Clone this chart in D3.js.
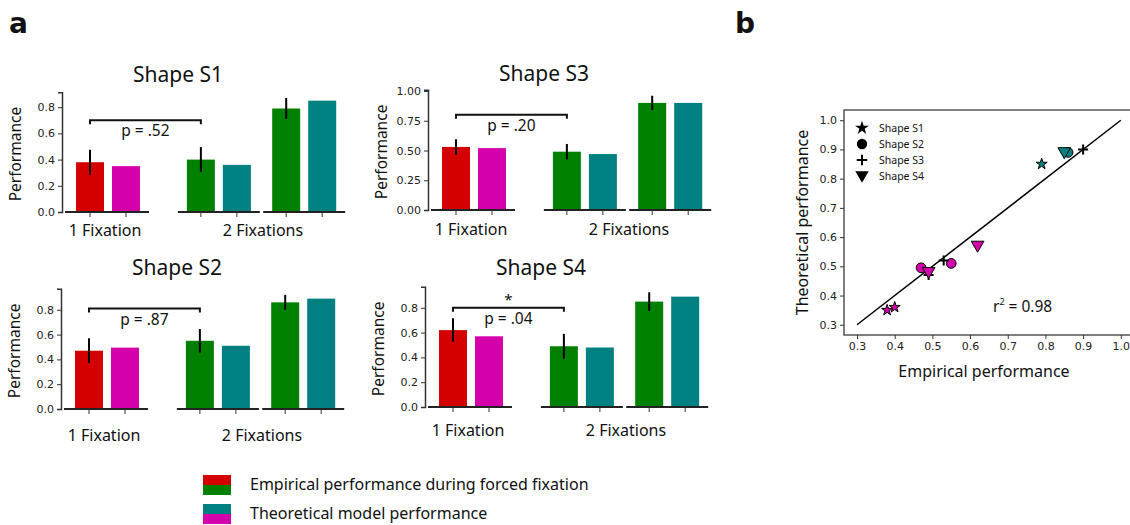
<!DOCTYPE html>
<html>
<head>
<meta charset="utf-8">
<script src="https://cdn.jsdelivr.net/npm/d3@7"></script>
<style>
  body { margin: 0; background: #fff; }
  text { font-family: "Noto Sans", "Open Sans", sans-serif; fill: #111; }
  .tick text { font-family: "DejaVu Sans", sans-serif; font-size: 11px; fill: #222; }
</style>
</head>
<body>
<script>
// ---- data ----
var shapes = ["Shape S1", "Shape S2", "Shape S3", "Shape S4"];
// empirical: [1 fixation, 2 fixations (first), 2 fixations (second)]
var empirical = [[0.38, 0.40, 0.79], [0.47, 0.55, 0.86], [0.53, 0.49, 0.90], [0.62, 0.49, 0.85]];
var empiricalErr = [[0.095, 0.095, 0.08], [0.10, 0.095, 0.06], [0.065, 0.065, 0.06], [0.095, 0.10, 0.075]];
var theoretical = [[0.35, 0.36, 0.85], [0.495, 0.51, 0.89], [0.52, 0.47, 0.90], [0.57, 0.48, 0.89]];
var pLabels = ["p = .52", "p = .87", "p = .20", "p = .04"];
var sigStars = ["", "", "", "*"];
var bracketY = [0.70, 0.81, 0.80, 0.80];
var yTicksShort = [0, 0.2, 0.4, 0.6, 0.8];
var yTicksS3 = [0, 0.25, 0.5, 0.75, 1.0];
var scatterTicks = [0.3, 0.4, 0.5, 0.6, 0.7, 0.8, 0.9, 1.0];
var r2Label = "0.98";

var red = "#d40000", magenta = "#d400aa", green = "#008000", teal = "#008080";

var svg = d3.select("body").append("svg")
  .attr("width", 1130).attr("height", 525);

svg.append("text").attr("x", 9).attr("y", 33)
  .style("font-family", "DejaVu Sans").style("font-weight", "bold").style("font-size", "28px").text("a");
svg.append("text").attr("x", 735).attr("y", 33)
  .style("font-family", "DejaVu Sans").style("font-weight", "bold").style("font-size", "28px").text("b");

// panel layout
var panels = [
  {axisX: 62, y0: 212, unit: 131, top: 0.915, ticks: yTicksShort, fmt: ".1f", lab: 236, title: 82},
  {axisX: 61, y0: 409, unit: 124, top: 0.97, ticks: yTicksShort, fmt: ".1f", lab: 441, title: 275},
  {axisX: 428, y0: 210, unit: 119, top: 1.01, ticks: yTicksS3, fmt: ".2f", lab: 235, title: 81},
  {axisX: 425, y0: 407, unit: 124, top: 0.97, ticks: yTicksShort, fmt: ".1f", lab: 436, title: 275}
];
var slotPos = [0, 1, 3.08, 4.08, 5.45, 6.45];
var barW = 28;

panels.forEach(function(p, i) {
  var g = svg.append("g");
  var y = d3.scaleLinear().domain([0, p.top]).range([p.y0, p.y0 - p.unit * p.top]);
  var x = d3.scaleLinear().domain([0, 1]).range([p.axisX + 28, p.axisX + 64]);

  var bars = [];
  for (var k = 0; k < 3; k++) {
    bars.push({slot: slotPos[2 * k], v: empirical[i][k], err: empiricalErr[i][k], c: k === 0 ? red : green});
    bars.push({slot: slotPos[2 * k + 1], v: theoretical[i][k], err: 0, c: k === 0 ? magenta : teal});
  }

  g.selectAll("rect").data(bars).enter().append("rect")
    .attr("x", function(d) { return x(d.slot) - barW / 2; })
    .attr("width", barW)
    .attr("y", function(d) { return y(d.v); })
    .attr("height", function(d) { return y(0) - y(d.v); })
    .attr("fill", function(d) { return d.c; });

  g.selectAll("line.err").data(bars.filter(function(d) { return d.err > 0; })).enter().append("line")
    .attr("class", "err")
    .attr("x1", function(d) { return x(d.slot); }).attr("x2", function(d) { return x(d.slot); })
    .attr("y1", function(d) { return y(d.v - d.err); }).attr("y2", function(d) { return y(d.v + d.err); })
    .attr("stroke", "#000").attr("stroke-width", 2);

  // group baselines with ticks
  [[0, 1], [2, 3], [4, 5]].forEach(function(pair, k) {
    var x1 = k === 0 ? p.axisX + 3 : x(slotPos[pair[0]]) - 23;
    var x2 = x(slotPos[pair[1]]) + 23;
    g.append("line").attr("x1", x1).attr("x2", x2).attr("y1", y(0)).attr("y2", y(0))
      .attr("stroke", "#222").attr("stroke-width", 2);
    pair.forEach(function(s) {
      g.append("line").attr("x1", x(slotPos[s])).attr("x2", x(slotPos[s]))
        .attr("y1", y(0)).attr("y2", y(0) + 5).attr("stroke", "#333").attr("stroke-width", 1);
    });
  });

  var ax = g.append("g").attr("transform", "translate(" + p.axisX + ",0)")
    .call(d3.axisLeft(y).tickValues(p.ticks).tickFormat(d3.format(p.fmt)).tickSizeOuter(0).tickSize(4));
  ax.select(".domain").attr("stroke", "#333").attr("stroke-width", 1.5);
  ax.selectAll(".tick line").attr("stroke", "#333");

  g.append("text").attr("transform", "translate(" + (p.axisX - 41) + "," + (y(p.top / 2) + 2) + ") rotate(-90)")
    .attr("text-anchor", "middle").style("font-size", "15.5px").text("Performance");

  g.append("text").attr("x", p.axisX + 116).attr("y", p.title)
    .attr("text-anchor", "middle").style("font-size", "21px").text(shapes[i]);

  g.append("text").attr("x", p.axisX + 43).attr("y", p.lab)
    .attr("text-anchor", "middle").style("font-size", "16px").text("1 Fixation");
  g.append("text").attr("x", p.axisX + 201).attr("y", p.lab)
    .attr("text-anchor", "middle").style("font-size", "16px").text("2 Fixations");

  // significance bracket
  var bx1 = x(slotPos[0]), bx2 = x(slotPos[2]), by = y(bracketY[i]);
  g.append("path").attr("d", "M" + bx1 + "," + (by + 4) + "V" + by + "H" + bx2 + "V" + (by + 4))
    .attr("fill", "none").attr("stroke", "#111").attr("stroke-width", 2);
  g.append("text").attr("x", (bx1 + bx2) / 2).attr("y", by + 16)
    .attr("text-anchor", "middle").style("font-size", "15.5px").text(pLabels[i]);
  if (sigStars[i]) {
    g.append("text").attr("x", (bx1 + bx2) / 2).attr("y", by - 3)
      .attr("text-anchor", "middle").style("font-size", "15px").text(sigStars[i]);
  }
});

// ---- scatter (b) ----
var sx = d3.scaleLinear().domain([0.2655, 1.035]).range([844, 1134]);
var sy = d3.scaleLinear().domain([0.265, 1.035]).range([335, 110]);
var sg = svg.append("g");

sg.append("rect").attr("x", sx.range()[0]).attr("y", sy.range()[1])
  .attr("width", sx.range()[1] - sx.range()[0]).attr("height", sy.range()[0] - sy.range()[1])
  .attr("fill", "none").attr("stroke", "#555").attr("stroke-width", 1.5);

var xa = sg.append("g").attr("transform", "translate(0," + sy.range()[0] + ")")
  .call(d3.axisBottom(sx).tickValues(scatterTicks).tickFormat(d3.format(".1f")).tickSizeOuter(0).tickSize(4));
var ya = sg.append("g").attr("transform", "translate(" + sx.range()[0] + ",0)")
  .call(d3.axisLeft(sy).tickValues(scatterTicks).tickFormat(d3.format(".1f")).tickSizeOuter(0).tickSize(4));
[xa, ya].forEach(function(a) {
  a.select(".domain").remove();
  a.selectAll(".tick line").attr("stroke", "#333");
});

sg.append("line").attr("x1", sx(0.3)).attr("y1", sy(0.3)).attr("x2", sx(1.0)).attr("y2", sy(1.0))
  .attr("stroke", "#000").attr("stroke-width", 1.5);

var symbols = [d3.symbolStar, d3.symbolCircle, null, d3.symbolTriangle];
var symSize = [38, 75, 0, 70];
function drawMarker(parent, s, cx, cy, fill, scale) {
  scale = scale || 1;
  if (s === 2) {
    var h = 5 * scale;
    parent.append("path").attr("d", "M" + (cx - h) + "," + cy + "H" + (cx + h) + "M" + cx + "," + (cy - h) + "V" + (cy + h))
      .attr("stroke", "#000").attr("stroke-width", 2);
    return;
  }
  var rot = s === 3 ? " rotate(180)" : "";
  var dy = s === 3 ? -1 : 0;
  parent.append("path")
    .attr("d", d3.symbol().type(symbols[s]).size(symSize[s] * scale * scale)())
    .attr("transform", "translate(" + cx + "," + (cy + dy) + ")" + rot)
    .attr("fill", fill).attr("stroke", "#000").attr("stroke-width", fill === "#000" ? 0 : 1);
}

shapes.forEach(function(name, i) {
  for (var k = 0; k < 3; k++) {
    drawMarker(sg, i, sx(empirical[i][k]), sy(theoretical[i][k]), k === 2 ? teal : magenta);
  }
});

shapes.forEach(function(name, i) {
  var ly = 128 + i * 16;
  drawMarker(sg, i, 862, ly, "#000", i === 0 ? 1.25 : 1.05);
  sg.append("text").attr("x", 879).attr("y", ly + 4).style("font-size", "10.5px").text(name);
});

var r2 = sg.append("text").attr("x", 993).attr("y", 312).style("font-size", "15.5px");
r2.append("tspan").text("r");
r2.append("tspan").attr("dy", -7).style("font-size", "9px").text("2");
r2.append("tspan").attr("dy", 7).text(" = " + r2Label);

sg.append("text").attr("x", 984).attr("y", 377).attr("text-anchor", "middle")
  .style("font-size", "16px").text("Empirical performance");
sg.append("text").attr("transform", "translate(808," + sy(0.65) + ") rotate(-90)")
  .attr("text-anchor", "middle").style("font-size", "16px").text("Theoretical performance");

// ---- bottom legend ----
var leg = svg.append("g");
var legendItems = [
  {label: "Empirical performance during forced fixation", top: red, bottom: green, y: 475},
  {label: "Theoretical model performance", top: teal, bottom: magenta, y: 504}
];
legendItems.forEach(function(d) {
  leg.append("rect").attr("x", 203).attr("y", d.y).attr("width", 28).attr("height", 10).attr("fill", d.top);
  leg.append("rect").attr("x", 203).attr("y", d.y + 10).attr("width", 28).attr("height", 10).attr("fill", d.bottom);
  leg.append("text").attr("x", 250).attr("y", d.y + 15).style("font-size", "16px").text(d.label);
});
</script>
</body>
</html>
